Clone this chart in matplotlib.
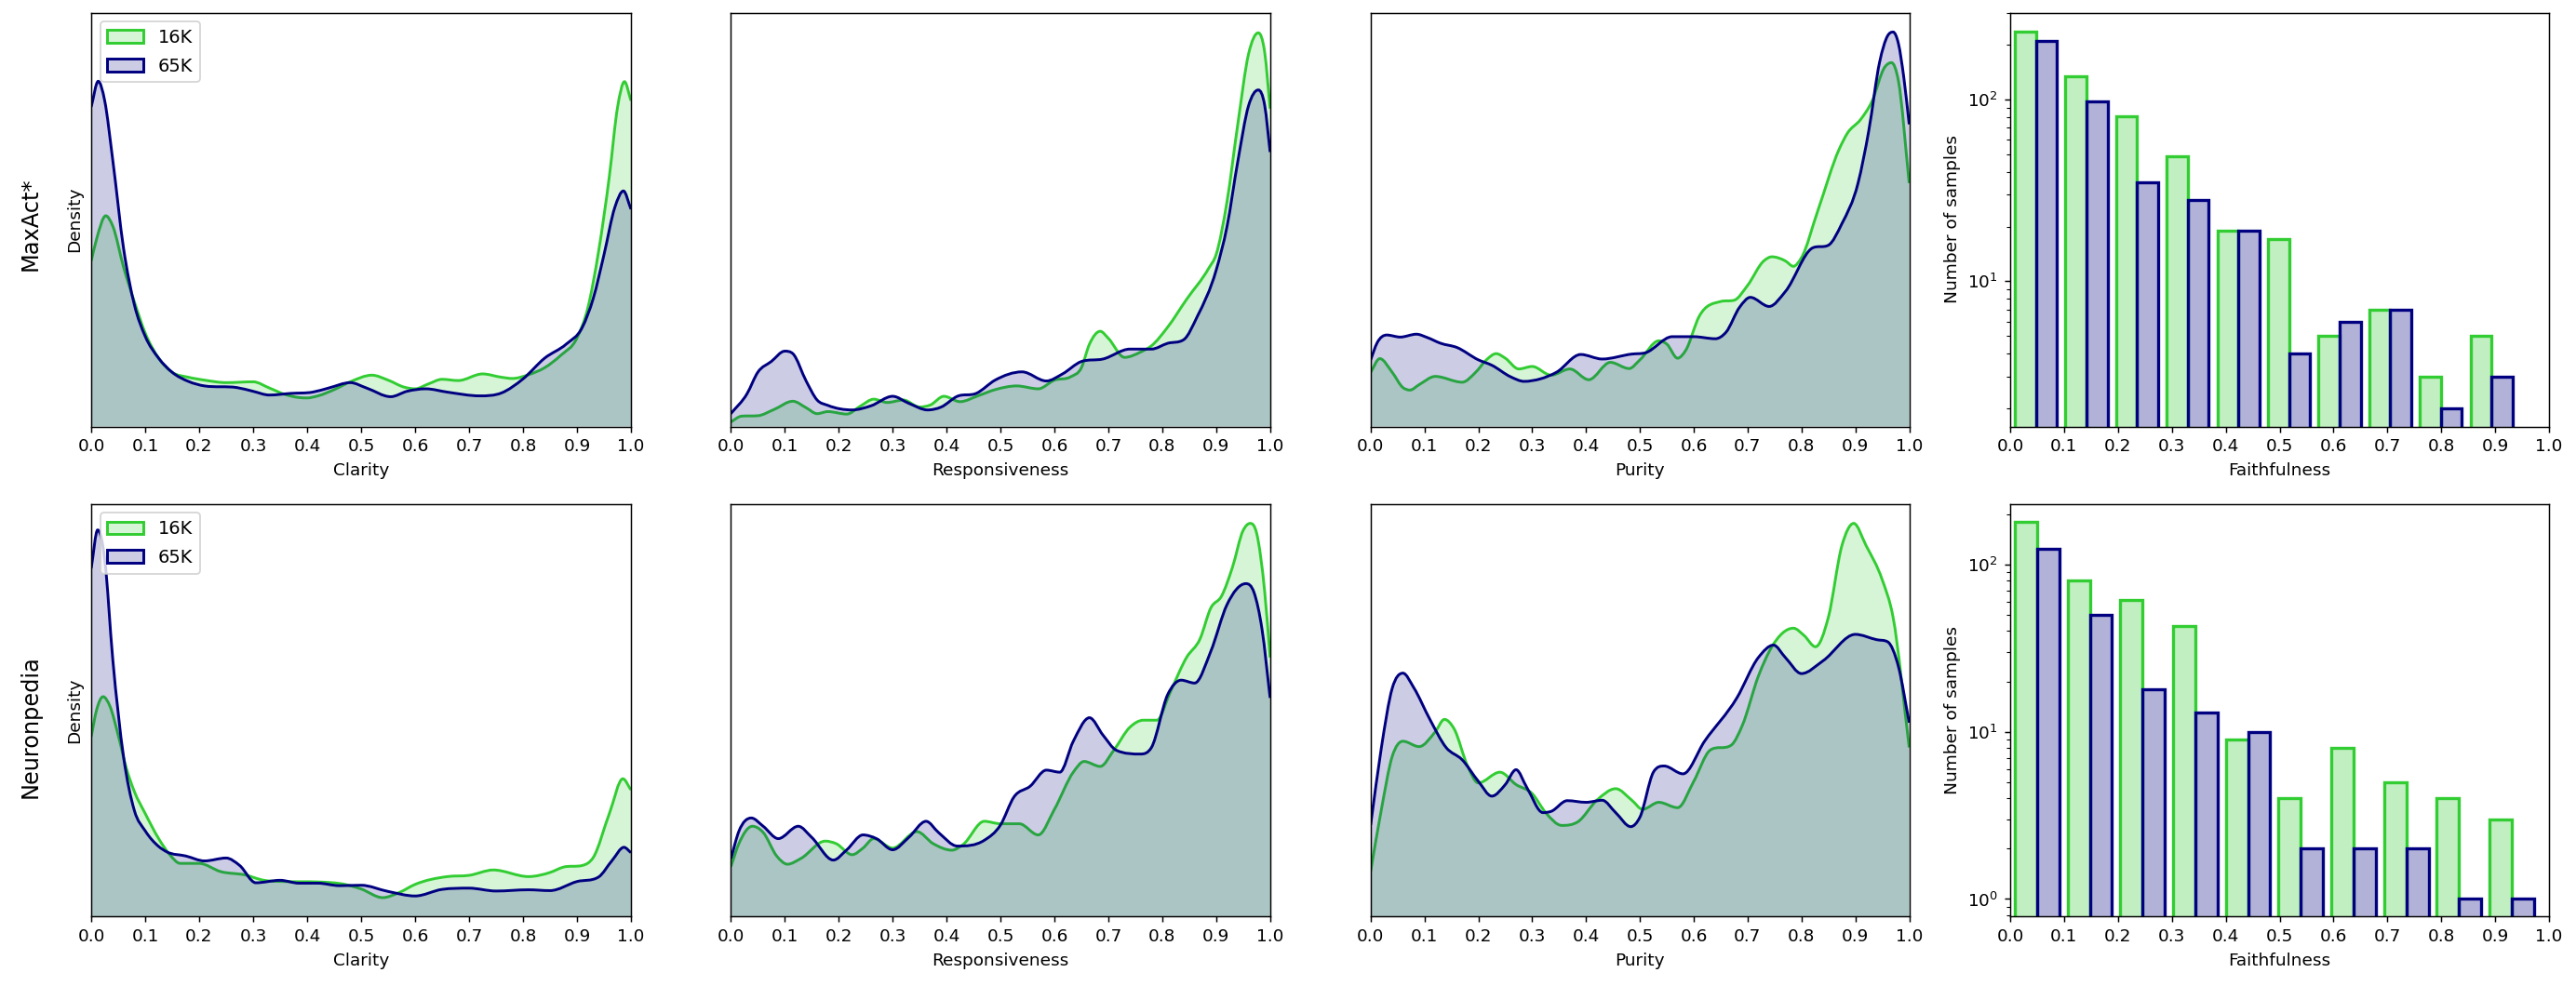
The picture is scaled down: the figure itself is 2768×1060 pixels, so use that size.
import numpy as np
import matplotlib
matplotlib.use("Agg")
import matplotlib.pyplot as plt
from matplotlib.path import Path
from matplotlib.patches import PathPatch, Patch

# --- values: (score, density as % of panel height) ---
maxact_clarity_16k = [(0,40),(.01,45.3),(.027,50.9),(.04,48.4),(.06,38.5),(.08,30.1),(.10,22.6),(.125,16.5),(.15,13.1),(.18,11.9),(.21,11.2),(.25,10.6),(.30,10.8),(.33,9.3),(.36,7.7),(.385,7),(.40,6.9),(.42,7.4),(.45,8.9),(.48,10.8),(.52,12.4),(.55,11.2),(.58,9.5),(.60,9.1),(.625,10.3),(.65,11.4),(.68,11.1),(.725,12.7),(.76,11.9),(.78,11.6),(.81,12.5),(.84,14.2),(.87,17.2),(.90,21.4),(.92,28.6),(.94,42.3),(.96,60.5),(.975,77),(.988,83.3),(1,78.7)]
maxact_clarity_65k = [(0,77.2),(.013,83.4),(.025,78.7),(.04,64.3),(.06,43),(.08,29.4),(.10,21.8),(.125,16.5),(.15,13.1),(.18,10.9),(.21,9.8),(.27,9.4),(.30,8.5),(.33,7.6),(.37,8),(.41,8.3),(.44,9.3),(.48,10.6),(.51,9.3),(.555,7.2),(.585,8.5),(.62,9.1),(.66,8.3),(.72,7.4),(.76,8.1),(.80,11.5),(.84,16.5),(.88,19.9),(.91,24),(.93,30.9),(.95,41.5),(.97,52.9),(.986,56.9),(1,52.5)]
maxact_resp_16k = [(0,1.1),(.02,2.5),(.05,2.6),(.08,4.1),(.115,6.1),(.14,4.5),(.16,3.1),(.18,3.6),(.215,3),(.24,4.9),(.265,6.6),(.29,5.8),(.32,6.4),(.35,4.7),(.37,5.2),(.395,7.3),(.425,6),(.46,7.5),(.49,8.9),(.53,9.8),(.57,9.1),(.60,11.2),(.63,12),(.65,14.2),(.665,19.9),(.685,23),(.70,21.3),(.73,16.7),(.76,18),(.78,19.5),(.81,24),(.845,30.7),(.886,38.2),(.90,41.6),(.92,54.3),(.94,73),(.96,90),(.978,95.1),(.99,90.3),(1,76.8)]
maxact_resp_65k = [(0,3.1),(.03,7.9),(.05,13.1),(.075,15.7),(.10,18.2),(.115,17.6),(.14,10.9),(.16,6.4),(.18,5.1),(.225,4),(.26,5),(.30,7.3),(.33,5.6),(.365,4),(.39,4.7),(.42,7.3),(.455,8),(.49,11.2),(.54,13.2),(.585,11),(.615,12.7),(.65,15.7),(.69,16.3),(.74,18.7),(.78,18.7),(.81,20.1),(.84,21),(.865,26.6),(.90,37.8),(.92,48.3),(.94,64),(.96,77.5),(.978,81.3),(.99,77.5),(1,66.3)]
maxact_purity_16k = [(0,13.1),(.017,16.4),(.04,13.1),(.06,9.4),(.073,8.8),(.09,10.1),(.12,12.1),(.17,10.7),(.195,13.1),(.215,16.1),(.233,17.6),(.25,16.5),(.275,13.9),(.30,14.5),(.335,12.4),(.37,13.9),(.405,11.3),(.445,15.5),(.48,14),(.50,16.1),(.535,20.7),(.55,19.9),(.57,16.5),(.585,18.4),(.61,26.6),(.65,30.2),(.675,30.5),(.70,34.1),(.73,40),(.745,41),(.77,40),(.785,38.7),(.80,40.8),(.83,52),(.87,67),(.885,70.8),(.91,74.2),(.93,78.3),(.955,86.9),(.967,87.9),(.98,83.5),(1,58.8)]
maxact_purity_65k = [(0,16.1),(.012,20.2),(.03,22.1),(.055,21.6),(.085,22.3),(.105,21.5),(.13,20.1),(.16,19.1),(.20,16.1),(.225,14.8),(.26,12),(.285,10.9),(.315,11.5),(.345,13.1),(.39,17.4),(.43,16.3),(.485,17.5),(.51,17.8),(.56,21.7),(.60,21.7),(.64,21.2),(.66,22.8),(.685,28.8),(.705,31.2),(.74,29),(.77,32.6),(.82,43.1),(.85,43.8),(.875,49),(.905,58.8),(.925,71.5),(.945,88),(.96,94.4),(.97,95.3),(.98,92.5),(.99,84.3),(1,73)]
neuron_clarity_16k = [(0,43.6),(.01,50.1),(.022,53.3),(.035,50.9),(.05,44),(.065,36),(.08,30.3),(.10,25),(.125,18.9),(.145,15.1),(.165,12.9),(.20,12.9),(.24,10.9),(.285,10.1),(.32,8.8),(.36,8.5),(.42,8.4),(.47,7.8),(.50,6.7),(.54,4.6),(.57,5.8),(.60,7.8),(.66,9.7),(.70,10),(.745,11.3),(.81,9.7),(.85,10.7),(.875,12),(.91,12.4),(.93,14.3),(.96,25),(.985,33.4),(1,30.7)]
neuron_clarity_65k = [(0,84.4),(.012,93.7),(.025,86.7),(.04,62.3),(.06,38.7),(.08,25.7),(.10,20.8),(.125,17),(.14,15.7),(.175,14.7),(.21,13.5),(.25,14.2),(.275,12.4),(.305,8.2),(.35,8.8),(.385,8.1),(.42,8.1),(.46,7.5),(.50,7.6),(.55,6.1),(.60,5),(.65,6.6),(.70,6.9),(.75,6.2),(.81,6.5),(.85,6.3),(.90,8.5),(.94,9.6),(.965,13.6),(.987,16.8),(1,15.5)]
neuron_resp_16k = [(0,12.1),(.015,17.7),(.04,21.9),(.06,20.4),(.085,14.7),(.105,12.7),(.13,14.1),(.175,18.3),(.195,17.7),(.225,15),(.245,16.6),(.265,18.9),(.30,16.6),(.345,20.6),(.375,17.7),(.41,16.1),(.43,17.4),(.47,23.1),(.50,22.5),(.535,22.5),(.57,19.8),(.60,26),(.635,35),(.655,37.6),(.685,36.4),(.71,40.3),(.74,45.9),(.765,47.6),(.79,47.6),(.815,54.5),(.845,62.8),(.87,67.3),(.89,74.8),(.91,77.7),(.93,84.6),(.95,93.6),(.963,95.3),(.975,92.9),(.99,78.6),(1,62.8)]
neuron_resp_65k = [(0,14),(.015,20.7),(.038,23.9),(.06,21.9),(.088,18.9),(.125,21.9),(.15,19.2),(.19,13.7),(.215,16.2),(.245,19.8),(.27,18.9),(.30,16.2),(.33,19.2),(.362,23.1),(.385,20.4),(.42,17.1),(.47,18.5),(.50,22.2),(.525,29),(.555,31.6),(.585,35.5),(.61,35),(.635,42.5),(.665,48.2),(.69,44),(.715,40.3),(.76,39.4),(.78,41),(.81,53.8),(.835,57.3),(.86,56.6),(.89,64.3),(.92,75.6),(.955,80.7),(.97,78.6),(.985,69.6),(1,53)]
neuron_purity_16k = [(0,11),(.02,26),(.04,38.8),(.06,42.5),(.09,41.2),(.12,44.8),(.137,47.8),(.155,45.5),(.18,36.5),(.20,32.4),(.24,35),(.27,32),(.30,29.8),(.325,25.2),(.355,22.1),(.385,23),(.42,28.2),(.455,31),(.485,28.2),(.505,26),(.535,27.7),(.57,26.4),(.60,32.8),(.63,40.3),(.67,41.6),(.69,46.3),(.72,58.3),(.745,65.4),(.785,69.9),(.805,68.1),(.826,65.4),(.85,72.6),(.875,89.9),(.897,95.3),(.92,89.9),(.95,81.6),(.97,72.6),(1,41)]
neuron_purity_65k = [(0,22.2),(.02,41),(.04,55.3),(.06,59),(.08,55.5),(.11,47.8),(.14,41),(.17,38),(.20,32.8),(.225,29.2),(.25,32),(.27,35.6),(.29,31.3),(.32,25.2),(.335,25.5),(.365,28.1),(.40,27.7),(.43,28.2),(.455,25.2),(.483,21.8),(.50,24.1),(.525,35),(.545,36.5),(.58,34.6),(.62,42.5),(.68,53),(.72,62.8),(.748,65.8),(.77,62.8),(.80,58.9),(.84,62),(.90,68.4),(.94,67.1),(.96,66.6),(.98,60.6),(1,47)]

maxact_faith_16k = [237, 134, 81, 49, 19, 17, 5, 7, 3, 5]
maxact_faith_65k = [209, 98, 35, 28, 19, 4, 6, 7, 2, 3]
neuron_faith_16k = [179, 80, 61, 43, 9, 4, 8, 5, 4, 3]
neuron_faith_65k = [124, 50, 18, 13, 10, 2, 2, 2, 1, 1]

tick_values = [0.0, 0.1, 0.2, 0.3, 0.4, 0.5, 0.6, 0.7, 0.8, 0.9, 1.0]
series_names = ["16K", "65K"]
row_names = ["MaxAct*", "Neuronpedia"]

# --- styling ---
W, H, DPI = 2768, 1060, 133
GREEN, NAVY = "limegreen", "navy"
COLS = [(98, 678), (785.3, 1364.8), (1472.8, 2051.5), (2160, 2739)]
ROWS = [(13.5, 458.5), (541.8, 985.4)]
ROW_LABEL_Y = [241, 781]
LOG_LIM = [(1.59, 301), (0.785, 230)]
BINS = [(0.0085, 0.094, 0.039), (0.0085, 0.0979, 0.0413)]


def slopes(x, y):
    """Smooth tangents through the read points, flat at read peaks and dips."""
    d = np.diff(y) / np.diff(x)
    h = np.diff(x)
    m = np.zeros_like(y)
    m[0], m[-1] = d[0], d[-1]
    for i in range(1, len(x) - 1):
        if d[i - 1] * d[i] > 0:
            c = (h[i] * d[i - 1] + h[i - 1] * d[i]) / (h[i - 1] + h[i])
            lim = 3 * min(abs(d[i - 1]), abs(d[i]))
            m[i] = np.sign(c) * min(abs(c), lim)
    return m


def curve_path(points):
    x, y = np.array(points, dtype=float).T
    m = slopes(x, y)
    verts = [(x[0], y[0])]
    codes = [Path.MOVETO]
    for i in range(len(x) - 1):
        h = (x[i + 1] - x[i]) / 3
        verts += [(x[i] + h, y[i] + m[i] * h), (x[i + 1] - h, y[i + 1] - m[i + 1] * h), (x[i + 1], y[i + 1])]
        codes += [Path.CURVE4] * 3
    return verts, codes


def draw_kde(ax, points, color):
    verts, codes = curve_path(points)
    fill_v = verts + [(points[-1][0], 0), (points[0][0], 0), (points[0][0], 0)]
    fill_c = codes + [Path.LINETO, Path.LINETO, Path.CLOSEPOLY]
    ax.add_patch(PathPatch(Path(fill_v, fill_c), facecolor=color, edgecolor="none", alpha=0.2))
    ax.add_patch(PathPatch(Path(verts, codes), facecolor="none", edgecolor=color, lw=1.6))


def make_axes(fig, c, r):
    (x0, x1), (y0, y1) = COLS[c], ROWS[r]
    ax = fig.add_axes([x0 / W, 1 - y1 / H, (x1 - x0) / W, (y1 - y0) / H])
    ax.set_xlim(0, 1)
    ax.set_xticks(tick_values)
    ax.tick_params(labelsize=10)
    return ax


fig = plt.figure(figsize=(W / DPI, H / DPI), dpi=DPI)
kde_rows = [
    [("Clarity", maxact_clarity_16k, maxact_clarity_65k),
     ("Responsiveness", maxact_resp_16k, maxact_resp_65k),
     ("Purity", maxact_purity_16k, maxact_purity_65k)],
    [("Clarity", neuron_clarity_16k, neuron_clarity_65k),
     ("Responsiveness", neuron_resp_16k, neuron_resp_65k),
     ("Purity", neuron_purity_16k, neuron_purity_65k)],
]
bar_rows = [(maxact_faith_16k, maxact_faith_65k), (neuron_faith_16k, neuron_faith_65k)]

for r in range(2):
    for c, (name, s16, s65) in enumerate(kde_rows[r]):
        ax = make_axes(fig, c, r)
        draw_kde(ax, s16, GREEN)
        draw_kde(ax, s65, NAVY)
        ax.set_ylim(0, 100)
        ax.set_yticks([])
        ax.set_xlabel(name, fontsize=10)
        if c == 0:
            ax.set_ylabel("Density", fontsize=10, labelpad=5)
            handles = [Patch(facecolor=(*matplotlib.colors.to_rgb(col), 0.2), edgecolor=col, lw=1.6)
                       for col in (GREEN, NAVY)]
            ax.legend(handles, series_names, loc="upper left", fontsize=10.5, labelspacing=0.6)

    ax = make_axes(fig, 3, r)
    start, step, width = BINS[r]
    ax.set_yscale("log")
    for k, (vals, col) in enumerate(zip(bar_rows[r], (GREEN, NAVY))):
        edges = start + step * np.arange(len(vals)) + k * width
        ax.bar(edges, vals, width=width, align="edge", facecolor=(*matplotlib.colors.to_rgb(col), 0.3),
               edgecolor=col, lw=1.8)
    ax.set_ylim(*LOG_LIM[r])
    ax.set_xlim(0, 1)
    ax.set_xlabel("Faithfulness", fontsize=10)
    ax.set_ylabel("Number of samples", fontsize=10)

    fig.text(33 / W, 1 - ROW_LABEL_Y[r] / H, row_names[r], rotation=90, fontsize=13,
             ha="center", va="center")

fig.savefig("out.png", dpi=DPI)
